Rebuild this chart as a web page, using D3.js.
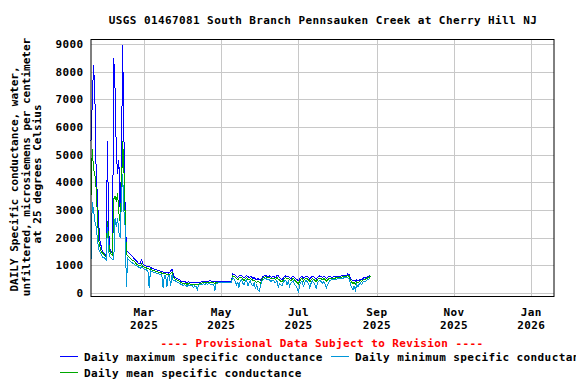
<!DOCTYPE html>
<html>
<head>
<meta charset="utf-8">
<script src="https://cdn.jsdelivr.net/npm/d3@7"></script>
<style>
  html, body { margin: 0; padding: 0; background: #fff; overflow: hidden; }
  svg { display: block; }
  text { font-family: "DejaVu Sans Mono", monospace; font-weight: bold; font-size: 11px; letter-spacing: 0.4px; }
  text.ylab { letter-spacing: 0; }
</style>
</head>
<body>
<div id="chart"></div>
<script>
// daily values starting 2025-01-18, null = no data (line connects across)
const startDate = new Date(Date.UTC(2025, 0, 18));

const dailyMax = [
  5500, 6870, 8240, 7340, 4600, 3500, 2600, 1900, 1700, 1500,
  1450, 1400, 1350, 5500, 2200, 1600, 1500, 1400, 8500, 7400,
  5100, 4300, 4800, 3000, 4400, 8950, 5700, 3000, 1550, 1500,
  1450, 1400, 1350, 1300, 1250, 1200, 1150, 1100, 1050, 1050,
  1230, 1050, 1000, 980, 960, 940, 950, 930, 900, 880,
  860, 860, 840, 820, 800, 790, 780, 760, 750, 740,
  730, 720, 730, 800, 870, 700, 560, 540, 520, 500,
  480, 430, 420, 400, 410, 390, 380, 400, 390, 380,
  370, 380, 360, 370, 360, 370, 390, 400, 410, 420,
  420, 430, 420, 430, 440, 430, 420, 410, 400, 400,
  null, null, null, null, null, null, null, null, null, null,
  null, 410, 690, 680, 650, 600, 560, 610, 640, 620,
  580, 540, 600, 630, 590, 560, 600, 580, 530, 560,
  500, 470, 520, 480, 450, 540, 600, 620, 630, 610,
  600, 620, 590, 570, 600, 580, 560, 650, 620, 560,
  520, 480, 540, 600, 620, 580, 600, 560, 520, 580,
  600, 550, 500, 480, 450, 520, 580, 600, 540, 570,
  610, 590, 550, 500, 560, 600, 580, 540, 500, 560,
  600, 620, 590, 560, 600, 580, 520, 560, 590, 600,
  570, null, null, null, null, null, null, null, null, null,
  null, null, 640, 690, 660, 560, 480, 430, 470, 420,
  480, 440, 460, 500, 480, 530, 560, 540, 580, 600,
  620, 660
];

const dailyMin = [
  1200, 3300, 3000, 2600, 2400, 2000, 1600, 1500, 1400, 1300,
  1300, 1250, 1200, 2400, 1500, 1300, 1250, 1200, 1200, 2700,
  2400, 2700, 2200, 2000, 3300, 4300, 3000, 2400, 230, 1250,
  1200, 1150, 1100, 1080, 1050, 1000, 980, 950, 930, 900,
  950, 900, 870, 850, 830, 800, 180, 820, 780, 760,
  740, 730, 720, 700, 680, 660, 650, 200, 640, 620,
  220, 630, 620, 250, 650, 450, 450, 430, 400, 380,
  350, 320, 300, 260, 300, 280, 220, 290, 280, 250,
  260, 200, 260, 240, 110, 280, 300, 310, 320, 330,
  320, 330, 320, 340, 330, 310, 320, 300, 80, 360,
  null, null, null, null, null, null, null, null, null, null,
  null, 370, 560, 520, 420, 300, 380, 200, 450, 480,
  350, 300, 420, 480, 240, 380, 440, 300, 260, 380,
  150, 300, 100, 60, 250, 420, 480, 510, 520, 500,
  470, 480, 420, 440, 470, 400, 380, 450, 200, 350,
  300, 250, 380, 440, 470, 300, 420, 240, 350, 400,
  430, 300, 260, 150, 20, 300, 400, 420, 220, 380,
  450, 400, 330, 180, 360, 430, 380, 300, 180, 350,
  430, 460, 400, 350, 420, 330, 190, 300, 400, 450,
  470, null, null, null, null, null, null, null, null, null,
  null, null, 560, 560, 500, 350, 200, 110, 250, 100,
  300, 220, 320, 360, 300, 400, 430, 420, 460, 490,
  520, 550
];

const dailyMean = [
  3500, 5200, 4500, 4300, 3800, 2900, 1900, 1700, 1500, 1450,
  1400, 1350, 1300, 2600, 1800, 1500, 1400, 1350, 3400, 3500,
  3300, 3600, 2900, 2600, 3500, 5500, 4500, 2800, 1400, 1350,
  1300, 1250, 1200, 1180, 1150, 1100, 1050, 1020, 1000, 980,
  1050, 970, 940, 920, 900, 880, 860, 870, 840, 820,
  800, 790, 780, 760, 740, 730, 720, 690, 700, 690,
  670, 680, 680, 700, 760, 600, 510, 490, 470, 450,
  430, 370, 360, 350, 350, 330, 320, 340, 330, 320,
  310, 320, 300, 310, 290, 320, 340, 350, 360, 370,
  370, 380, 370, 380, 380, 370, 370, 360, 340, 380,
  null, null, null, null, null, null, null, null, null, null,
  null, 390, 620, 610, 580, 520, 470, 540, 570, 550,
  500, 450, 520, 560, 500, 480, 520, 500, 440, 470,
  400, 380, 420, 380, 360, 480, 540, 570, 580, 560,
  550, 560, 530, 510, 540, 520, 490, 560, 500, 470,
  430, 400, 470, 530, 550, 500, 530, 480, 440, 500,
  520, 470, 420, 380, 330, 440, 500, 520, 440, 490,
  530, 510, 470, 400, 480, 520, 500, 450, 410, 480,
  520, 540, 510, 480, 520, 490, 420, 470, 510, 530,
  520, null, null, null, null, null, null, null, null, null,
  null, null, 600, 630, 600, 470, 400, 340, 380, 330,
  400, 360, 400, 440, 420, 470, 500, 490, 530, 550,
  570, 600
];

const yTicks = [0, 1000, 2000, 3000, 4000, 5000, 6000, 7000, 8000, 9000];
const xTickMonths = ["Mar", "May", "Jul", "Sep", "Nov", "Jan"];
const xTickYears = ["2025", "2025", "2025", "2025", "2025", "2026"];
const xTickDates = [
  Date.UTC(2025, 2, 1), Date.UTC(2025, 4, 1), Date.UTC(2025, 6, 1),
  Date.UTC(2025, 8, 1), Date.UTC(2025, 10, 1), Date.UTC(2026, 0, 1)
].map(t => new Date(t));

const seriesNames = ["Daily maximum specific conductance", "Daily minimum specific conductance", "Daily mean specific conductance"];
const seriesColors = ["#0000ff", "#0096d8", "#00a800"];

const width = 576, height = 384;
const box = { left: 91, right: 554, top: 39.5, bottom: 296.5 };

const svg = d3.select("#chart").append("svg")
  .attr("width", width)
  .attr("height", height);

const x = d3.scaleUtc()
  .domain([startDate, new Date(Date.UTC(2026, 0, 19))])
  .range([box.left, box.right]);

const y = d3.scaleLinear()
  .domain([0, 9000])
  .range([293, 44]);

// gridlines
const grid = svg.append("g")
  .attr("stroke", "#c8c8c8")
  .attr("stroke-width", 1)
  .attr("shape-rendering", "crispEdges");

grid.selectAll(".hg").data(yTicks).enter().append("line")
  .attr("x1", box.left).attr("x2", box.right)
  .attr("y1", d => Math.round(y(d)) + 0.5)
  .attr("y2", d => Math.round(y(d)) + 0.5);

grid.selectAll(".vg").data(xTickDates).enter().append("line")
  .attr("y1", box.top).attr("y2", box.bottom)
  .attr("x1", d => Math.round(x(d)) + 0.5)
  .attr("x2", d => Math.round(x(d)) + 0.5);

// series lines
const toPoints = arr => arr
  .map((v, i) => ({ date: d3.utcDay.offset(startDate, i), value: v }))
  .filter(d => d.value != null);

const line = d3.line()
  .x(d => x(d.date))
  .y(d => y(d.value));

const drawOrder = [0, 2, 1];
const allSeries = [dailyMax, dailyMin, dailyMean];
const lines = svg.append("g")
  .attr("fill", "none")
  .attr("stroke-width", 1)
  .attr("shape-rendering", "crispEdges");
drawOrder.forEach(k => {
  lines.append("path")
    .datum(toPoints(allSeries[k]))
    .attr("stroke", seriesColors[k])
    .attr("d", line);
});

// frame
svg.append("rect")
  .attr("x", box.left).attr("y", box.top)
  .attr("width", box.right - box.left)
  .attr("height", box.bottom - box.top)
  .attr("fill", "none")
  .attr("stroke", "#000")
  .attr("stroke-width", 1);

// y tick labels
svg.selectAll(".ytl").data(yTicks).enter().append("text")
  .attr("x", 83.5)
  .attr("y", d => y(d) + 4)
  .attr("text-anchor", "end")
  .text(d => d);

// x tick labels
const xl = svg.append("g");
xl.selectAll(".xm").data(xTickDates).enter().append("text")
  .attr("x", d => x(d))
  .attr("y", 315.5)
  .attr("text-anchor", "middle")
  .text((d, i) => xTickMonths[i]);
xl.selectAll(".xy").data(xTickDates).enter().append("text")
  .attr("x", d => x(d))
  .attr("y", 329)
  .attr("text-anchor", "middle")
  .text((d, i) => xTickYears[i]);

// title
svg.append("text")
  .attr("x", 323).attr("y", 24)
  .attr("text-anchor", "middle")
  .text("USGS 01467081 South Branch Pennsauken Creek at Cherry Hill NJ");

// y axis label
const yLabel = [
  { t: "DAILY Specific conductance, water,", x: 17.5, c: 179 },
  { t: "unfiltered, microsiemens per centimeter", x: 29.5, c: 167 },
  { t: "at 25 degrees Celsius", x: 41, c: 174 }
];
yLabel.forEach(l => {
  svg.append("text")
    .attr("class", "ylab")
    .attr("transform", `translate(${l.x},${l.c}) rotate(-90)`)
    .attr("text-anchor", "middle")
    .text(l.t);
});

// provisional note
svg.append("text")
  .attr("x", 322).attr("y", 347)
  .attr("text-anchor", "middle")
  .attr("fill", "#ff0000")
  .text("---- Provisional Data Subject to Revision ----");

// legend
const legendPos = [
  { x: 60, y: 356.5 },
  { x: 331, y: 356.5 },
  { x: 60, y: 372.5 }
];
const legend = svg.append("g");
seriesNames.forEach((name, i) => {
  const p = legendPos[i];
  legend.append("line")
    .attr("x1", p.x).attr("x2", p.x + 18)
    .attr("y1", p.y).attr("y2", p.y)
    .attr("stroke", seriesColors[i])
    .attr("stroke-width", 1);
  legend.append("text")
    .attr("x", p.x + 24)
    .attr("y", p.y + 4.5)
    .text(name);
});
</script>
</body>
</html>
